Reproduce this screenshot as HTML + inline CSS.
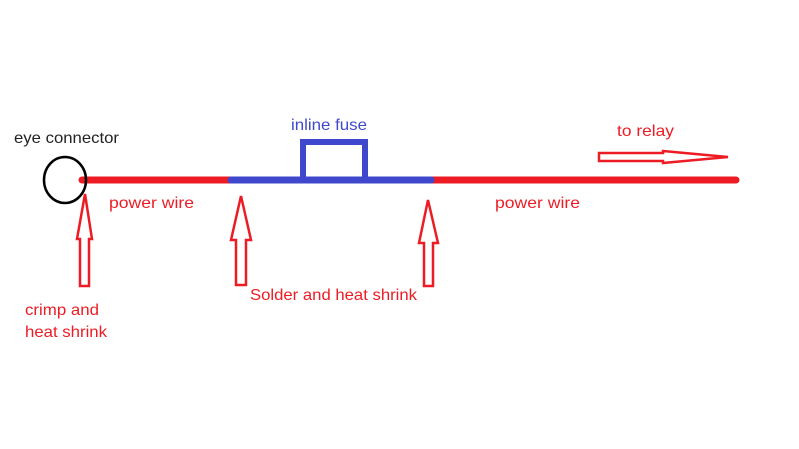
<!DOCTYPE html>
<html><head><style>
body{margin:0;background:#fff;}
svg{display:block;}
text{font-family:"Liberation Sans",sans-serif;font-size:16px;}
</style></head><body>
<svg width="799" height="449" viewBox="0 0 799 449">
<rect width="799" height="449" fill="#fff"/>
<line x1="82" y1="180" x2="232" y2="180" stroke="#ed1c24" stroke-width="7" stroke-linecap="round"/>
<line x1="432" y1="180" x2="736" y2="180" stroke="#ed1c24" stroke-width="7" stroke-linecap="round"/>
<line x1="231" y1="180" x2="431" y2="180" stroke="#3f48cc" stroke-width="7" stroke-linecap="round"/>
<polyline points="303,178 303,142 365,142 365,178" fill="none" stroke="#3f48cc" stroke-width="6"/>
<ellipse cx="65" cy="180" rx="21" ry="23" fill="none" stroke="#000" stroke-width="2.5"/>
<g fill="#fff" stroke="#ed1c24" stroke-width="2.5">
<polygon points="85,194 92,239 89,239 89,286 80,286 80,239 77,239"/>
<polygon points="241,196 251,240 246,240 246,285 236,285 236,240 231,240"/>
<polygon points="428,200 438,243 433,243 433,286 424,286 424,243 419,243"/>
<polygon points="599,153 663,153 663,151 728,157 663,163 663,161 599,161"/>
</g>
<text x="14" y="143" fill="#222" textLength="105" lengthAdjust="spacingAndGlyphs">eye connector</text>
<text x="109" y="208" fill="#ed1c24" textLength="85" lengthAdjust="spacingAndGlyphs">power wire</text>
<text x="495" y="208" fill="#ed1c24" textLength="85" lengthAdjust="spacingAndGlyphs">power wire</text>
<text x="25" y="315" fill="#ed1c24" textLength="74" lengthAdjust="spacingAndGlyphs">crimp and</text>
<text x="25" y="337" fill="#ed1c24" textLength="82" lengthAdjust="spacingAndGlyphs">heat shrink</text>
<text x="250" y="300" fill="#ed1c24" textLength="167" lengthAdjust="spacingAndGlyphs">Solder and heat shrink</text>
<text x="291" y="130" fill="#3f48cc" textLength="76" lengthAdjust="spacingAndGlyphs">inline fuse</text>
<text x="617" y="136" fill="#ed1c24" textLength="57" lengthAdjust="spacingAndGlyphs">to relay</text>
</svg>
</body></html>
